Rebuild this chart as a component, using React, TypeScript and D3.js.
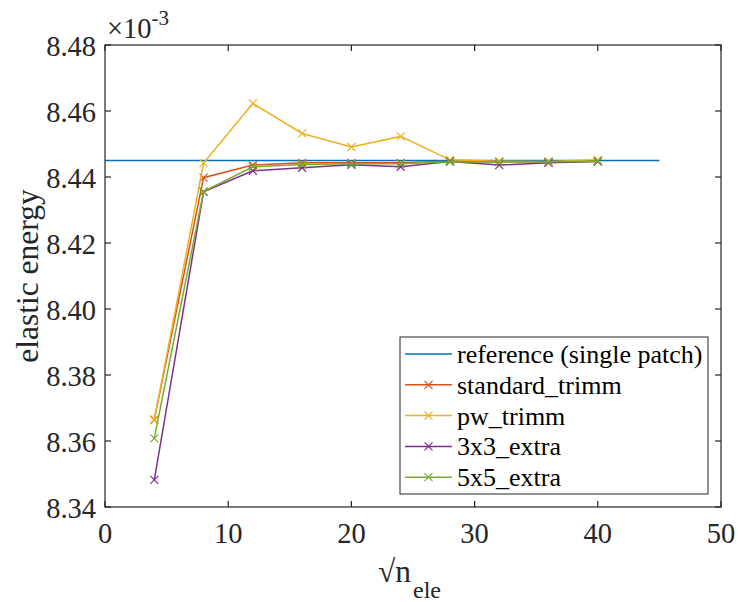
import React from "react";
import * as d3 from "d3";

const xValues = [4, 8, 12, 16, 20, 24, 28, 32, 36, 40];
const referenceX = [0, 45];
const referenceValue = 8.445;
const standardTrimm = [8.3665, 8.4398, 8.4436, 8.4443, 8.4443, 8.4443, 8.4448, 8.4446, 8.4446, 8.4448];
const pwTrimm = [8.3663, 8.4442, 8.4623, 8.4532, 8.4491, 8.4523, 8.4452, 8.4448, 8.4447, 8.4452];
const extra3x3 = [8.3482, 8.4355, 8.4419, 8.4428, 8.4437, 8.4431, 8.4447, 8.4436, 8.4443, 8.4447];
const extra5x5 = [8.3608, 8.4356, 8.4431, 8.4438, 8.4440, 8.4440, 8.4446, 8.4445, 8.4446, 8.4448];
const legendLabels = ["reference (single patch)", "standard_trimm", "pw_trimm", "3x3_extra", "5x5_extra"];
const xTicks = [0, 10, 20, 30, 40, 50];
const yTicks = [8.34, 8.36, 8.38, 8.4, 8.42, 8.44, 8.46, 8.48];

const colors = ["#0072BD", "#D95319", "#EDB120", "#7E2F8E", "#77AC30"];

export default function App() {
  const W = 738, H = 602;
  const L = 105, R = 721, T = 45, B = 507;
  const x = d3.scaleLinear().domain([0, 50]).range([L, R]);
  const y = d3.scaleLinear().domain([8.34, 8.48]).range([B, T]);
  const line = d3.line<[number, number]>().x(d => x(d[0])).y(d => y(d[1]));
  const series = [standardTrimm, pwTrimm, extra3x3, extra5x5];
  const fs = { fontFamily: "Liberation Serif, Times New Roman, Times, serif" };
  const axisColor = "#262626";
  const tickLen = 6;
  const ms = 4;
  const cross = (cx: number, cy: number, c: string, k: string) => (
    <path key={k} d={`M${cx - ms},${cy - ms}L${cx + ms},${cy + ms}M${cx - ms},${cy + ms}L${cx + ms},${cy - ms}`} stroke={c} strokeWidth={1.2} fill="none" />
  );
  const legX = 400, legY = 337, legW = 308, legH = 157;
  const rowY = (i: number) => legY + 17 + i * 30.8;

  return (
    <svg width={W} height={H} style={{ position: "absolute", left: 0, top: 0, background: "#fff", ...fs }}>
      <rect x={0} y={0} width={W} height={H} fill="#fff" />
      <path d={line(referenceX.map(v => [v, referenceValue] as [number, number])) || ""} stroke={colors[0]} strokeWidth={1.5} fill="none" />
      {series.map((s, si) => (
        <g key={si}>
          <path d={line(xValues.map((v, i) => [v, s[i]] as [number, number])) || ""} stroke={colors[si + 1]} strokeWidth={1.5} fill="none" />
          {xValues.map((v, i) => cross(x(v), y(s[i]), colors[si + 1], `${si}-${i}`))}
        </g>
      ))}
      <rect x={L} y={T} width={R - L} height={B - T} fill="none" stroke={axisColor} strokeWidth={1.2} />
      {xTicks.map(t => (
        <g key={`xt${t}`}>
          <line x1={x(t)} x2={x(t)} y1={B} y2={B - tickLen} stroke={axisColor} strokeWidth={1.2} />
          <line x1={x(t)} x2={x(t)} y1={T} y2={T + tickLen} stroke={axisColor} strokeWidth={1.2} />
          <text x={x(t)} y={B + 36} textAnchor="middle" fontSize={28.5} fill={axisColor} style={fs}>{t}</text>
        </g>
      ))}
      {yTicks.map(t => (
        <g key={`yt${t}`}>
          <line x1={L} x2={L + tickLen} y1={y(t)} y2={y(t)} stroke={axisColor} strokeWidth={1.2} />
          <line x1={R} x2={R - tickLen} y1={y(t)} y2={y(t)} stroke={axisColor} strokeWidth={1.2} />
          <text x={96} y={y(t) + 11} textAnchor="end" fontSize={28.5} fill={axisColor} style={fs}>{t.toFixed(2)}</text>
        </g>
      ))}
      <text x={107} y={38} fontSize={28.5} fill={axisColor} style={fs}>×10<tspan dy={-13} fontSize={21}>-3</tspan></text>
      <text transform={`translate(38,${(T + B) / 2}) rotate(-90)`} textAnchor="middle" fontSize={31.5} fill={axisColor} style={fs}>elastic energy</text>
      <text x={378} y={582} fontSize={31.5} fill={axisColor} style={fs}>√n<tspan dx={2} dy={16} fontSize={24}>ele</tspan></text>
      <rect x={legX} y={legY} width={legW} height={legH} fill="#fff" stroke={axisColor} strokeWidth={1} />
      {legendLabels.map((lab, i) => (
        <g key={lab}>
          <line x1={legX + 5} x2={legX + 52} y1={rowY(i)} y2={rowY(i)} stroke={colors[i]} strokeWidth={1.5} />
          {i > 0 && cross(legX + 28.5, rowY(i), colors[i], `leg${i}`)}
          <text x={legX + 57} y={rowY(i) + 9} fontSize={26} fill="#000" style={fs}>{lab}</text>
        </g>
      ))}
    </svg>
  );
}
